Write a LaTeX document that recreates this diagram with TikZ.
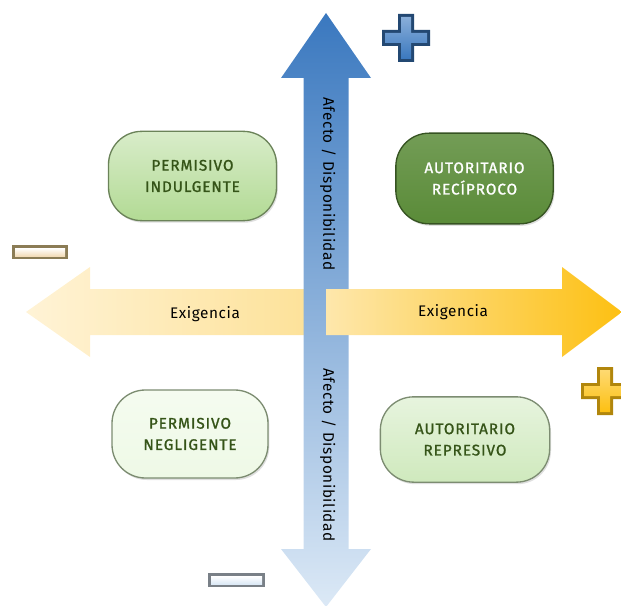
\documentclass[tikz,border=0pt]{standalone}
\usepackage{fontspec}
\setmainfont{Fira Sans}
\newfontfamily\boxfont[LetterSpace=6,FakeBold=1.2]{Fira Sans}
\newfontfamily\lblfont[LetterSpace=4]{Fira Sans}
\usetikzlibrary{shadows}
\definecolor{txtgreen}{HTML}{355418}
\definecolor{blueTop}{HTML}{3A78BF}
\definecolor{blueMid}{HTML}{B4D0EB}
\definecolor{blueBot}{HTML}{DCE9F6}
\definecolor{yelPale}{HTML}{FFF3D6}
\definecolor{yelMid}{HTML}{FDE29A}
\definecolor{yelDeep}{HTML}{FDC012}
\definecolor{gLight}{HTML}{B2DA94}
\definecolor{gDark}{HTML}{5A8B38}
\definecolor{gPale}{HTML}{EEF9E6}
\definecolor{gSoft}{HTML}{CFE9BD}
\newcommand\mycross[4]{%
  \begin{scope}[shift={(#1,#2)}]
    \fill[#3] (-8,-24) -- (8,-24) -- (8,-8) -- (24,-8) -- (24,8) -- (8,8) -- (8,24) -- (-8,24) -- (-8,8) -- (-24,8) -- (-24,-8) -- (-8,-8) -- cycle;
    \shade[top color=#4!60!white, bottom color=#4] (-5,-21) -- (5,-21) -- (5,-5) -- (21,-5) -- (21,5) -- (5,5) -- (5,21) -- (-5,21) -- (-5,5) -- (-21,5) -- (-21,-5) -- (-5,-5) -- cycle;
  \end{scope}}
\newcommand\mybar[6]{%
  \fill[#5] (#1,#2) rectangle (#3,#4);
  \shade[top color=white, bottom color=#6] (#1+3,#2+3) rectangle (#3-3,#4-3);}
\begin{document}
\begin{tikzpicture}[x=0.75pt,y=-0.75pt,
  box/.style={rounded corners=25pt, draw=#1!60!black, line width=1pt, align=center,
    font=\boxfont\fontsize{11.5}{16}\selectfont, text=txtgreen,
    drop shadow={shadow xshift=1pt, shadow yshift=-1.5pt, opacity=0.25}},
  axislbl/.style={font=\lblfont\fontsize{11.5}{13}\selectfont, text=black}]
\useasboundingbox (0,0) rectangle (621,606);
% left arrow
\shade[left color=yelPale, right color=yelMid] (26,312) -- (90,267) -- (90,289) -- (304,289) -- (304,335) -- (90,335) -- (90,357) -- cycle;
% vertical double arrow
\shade[top color=blueTop, middle color=blueMid, bottom color=blueBot]
  (326,13) -- (371,78) -- (348.5,78) -- (348.5,549) -- (371,549) -- (326,607) -- (281,549) -- (303.5,549) -- (303.5,78) -- (281,78) -- cycle;
% right arrow
\shade[left color=yelMid!70!yelPale, right color=yelDeep] (326,289) -- (562,289) -- (562,267) -- (622,312) -- (562,357) -- (562,335) -- (326,335) -- cycle;
% labels
\node[axislbl] (exl) at (205,314) {Exigencia};
\node[axislbl] (exr) at (453,312) {Exigencia};
\node[axislbl, rotate=-90] (afu) at (328,184) {Afecto / Disponibilidad};
\node[axislbl, rotate=-90] (afd) at (328,455) {Afecto / Disponibilidad};
% boxes
\node[box=gLight, top color=gLight!50!white, bottom color=gLight, minimum width=126pt, minimum height=67pt] (pi) at (192.5,176) {PERMISIVO\\INDULGENTE};
\node[box=gDark, top color=gDark!85!white, bottom color=gDark, text=white, minimum width=118pt, minimum height=68pt] (ar) at (474.5,178.5) {AUTORITARIO\\RECÍPROCO};
\node[box=gSoft, top color=gPale!60!white, bottom color=gPale, minimum width=117pt, minimum height=66pt] (pn) at (190,434) {PERMISIVO\\NEGLIGENTE};
\node[box=gSoft, top color=gSoft!50!white, bottom color=gSoft, minimum width=127pt, minimum height=64pt] (arp) at (465,439.5) {AUTORITARIO\\REPRESIVO};
% signs
\mycross{406}{38}{blueTop!60!black}{blueTop}
\mycross{605}{391}{yelDeep!70!black}{yelDeep}
\mybar{12}{245}{68}{259}{black!45!yelMid}{yelPale!80!brown}
\mybar{208}{573}{265}{587}{black!45!blueBot}{blueBot}
\end{tikzpicture}
\end{document}
